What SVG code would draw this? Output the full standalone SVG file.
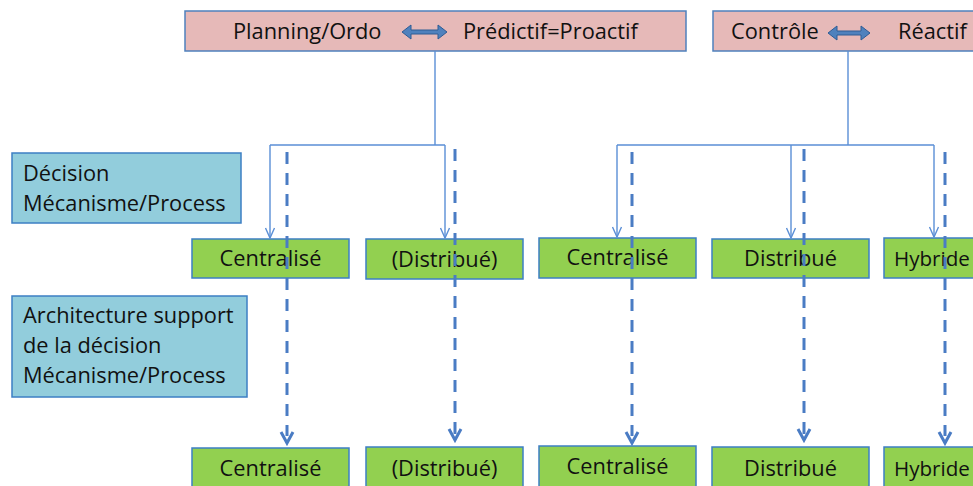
<svg xmlns="http://www.w3.org/2000/svg" width="973" height="486" viewBox="0 0 973 486">
<defs>
<style>
text{font-family:"Open Sans","Liberation Sans",sans-serif;font-size:21.8px;fill:#111}
.hy{font-size:20.6px}
.pink{fill:#E6B9B8;stroke:#4F81BD;stroke-width:1.5}
.green{fill:#92D050;stroke:#3C7FC4;stroke-width:1.5}
.blue{fill:#92CDDC;stroke:#3C7FC4;stroke-width:1.5}
.thin{fill:none;stroke:#5B8FD6;stroke-width:1.4}
.head{fill:none;stroke:#5B8FD6;stroke-width:1.4}
.dash{fill:none;stroke:#4A7CC4;stroke-width:3;stroke-dasharray:12 9}
.dhead{fill:none;stroke:#4A7CC4;stroke-width:3}
.dbl{fill:#4F81BD;stroke:#2E5C94;stroke-width:1}
</style>
</defs>

<g id="top1">
<rect class="pink" x="185" y="11" width="501" height="40"/>
<text x="233" y="39">Planning/Ordo</text>
<path class="dbl" d="M402,32 L411,25 L411,30 L438,30 L438,25 L447,32 L438,39 L438,34 L411,34 L411,39 Z"/>
<text x="463" y="39">Prédictif=Proactif</text>
</g>
<g id="top2">
<rect class="pink" x="713" y="11" width="270" height="40"/>
<text x="731" y="39">Contrôle</text>
<path class="dbl" d="M828,33 L837,26 L837,31 L861,31 L861,26 L870,33 L861,40 L861,35 L837,35 L837,40 Z"/>
<text x="898" y="39">Réactif</text>
</g>

<g id="label1">
<rect class="blue" x="12" y="153" width="229" height="70"/>
<text x="23" y="181">Décision</text>
<text x="23" y="211">Mécanisme/Process</text>
</g>
<g id="label2">
<rect class="blue" x="12" y="296" width="235" height="101"/>
<text x="23" y="323">Architecture support</text>
<text x="23" y="353">de la décision</text>
<text x="23" y="383">Mécanisme/Process</text>
</g>

<g id="r1c1"><rect class="green" x="192" y="239" width="157" height="39"/><text x="270.5" y="266" text-anchor="middle">Centralisé</text></g>
<g id="r1c2"><rect class="green" x="366" y="239" width="157" height="40"/><text x="444.5" y="267" text-anchor="middle">(Distribué)</text></g>
<g id="r1c3"><rect class="green" x="539" y="238" width="157" height="40"/><text x="617.5" y="265" text-anchor="middle">Centralisé</text></g>
<g id="r1c4"><rect class="green" x="712" y="239" width="157" height="39"/><text x="790.5" y="266" text-anchor="middle">Distribué</text></g>
<g id="r1c5"><rect class="green" x="884" y="238" width="157" height="40"/><text class="hy" x="894" y="266">Hybride</text></g>

<g id="r2c1"><rect class="green" x="192" y="448" width="157" height="45"/><text x="270.5" y="476" text-anchor="middle">Centralisé</text></g>
<g id="r2c2"><rect class="green" x="366" y="447" width="157" height="45"/><text x="444.5" y="476" text-anchor="middle">(Distribué)</text></g>
<g id="r2c3"><rect class="green" x="539" y="446" width="157" height="45"/><text x="617.5" y="474" text-anchor="middle">Centralisé</text></g>
<g id="r2c4"><rect class="green" x="712" y="447" width="157" height="45"/><text x="790.5" y="476" text-anchor="middle">Distribué</text></g>
<g id="r2c5"><rect class="green" x="884" y="447" width="157" height="45"/><text class="hy" x="894" y="476">Hybride</text></g>

<g id="connectors">
<path class="thin" d="M435,51 V145 M270,145 H445 M848,51 V145 M617,145 H934"/>
<path class="thin" d="M270,145 V238 M445,145 V238 M617,145 V237 M791,145 V238 M934,145 V237"/>
<path class="head" d="M265.5,228 L270,238 L274.5,228 M440.5,228 L445,238 L449.5,228 M612.5,227 L617,237 L621.5,227 M786.5,228 L791,238 L795.5,228 M929.5,227 L934,237 L938.5,227"/>
<path class="dash" d="M287,152 V436"/>
<path class="dash" d="M455,149 V436"/>
<path class="dash" d="M632,152 V436"/>
<path class="dash" d="M804,149 V436"/>
<path class="dash" d="M945,152 V436"/>
<path class="dhead" d="M281,432 L287,443 L293,432 M449,429 L455,440 L461,429 M626,432 L632,443 L638,432 M798,429 L804,440 L810,429 M939,432 L945,443 L951,432"/>
</g>
</svg>
